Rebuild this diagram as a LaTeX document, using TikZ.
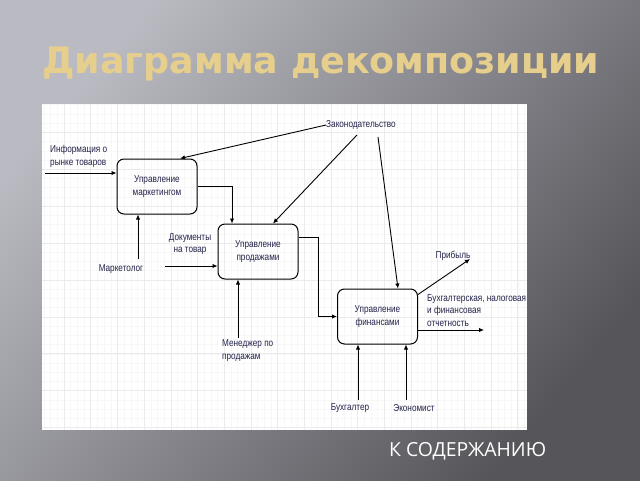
\documentclass[tikz,border=0pt]{standalone}
\usepackage{fontspec}
\setmainfont{Liberation Sans}
\newfontfamily\dfont[FakeStretch=0.82]{Liberation Sans}
\newfontfamily\tfont{DejaVu Sans}
\newfontfamily\cfont{Open Sans}
\usetikzlibrary{arrows.meta}
\definecolor{titlec}{HTML}{E6CF8C}
\definecolor{txt}{HTML}{23234A}
\definecolor{bglight}{HTML}{BABAC2}
\definecolor{bgmid}{HTML}{6E6D73}
\definecolor{bgdark}{HTML}{56555A}
\begin{document}
\begin{tikzpicture}[x=1pt,y=-1pt,
  proc/.style={draw, line width=1pt, rounded corners=7pt, minimum width=80pt, minimum height=55pt,
    align=center, font=\dfont\fontsize{10}{13}\selectfont, text=txt, inner sep=2pt},
  lbl/.style={font=\dfont\fontsize{10}{12.5}\selectfont, text=txt, inner sep=0pt},
  arr/.style={-{Latex[length=5pt,width=4.5pt]}, line width=0.9pt},
  gmaj/.style={draw=black!8, line width=0.5pt},
  gmin/.style={draw=black!3, line width=0.4pt}]
\useasboundingbox (0,0) rectangle (640,480);
% background
\fill[bgdark] (0,0) rectangle (640,480);
\shade[top color=bglight, middle color=bgmid, bottom color=bgdark, shading angle=50] (0,0) rectangle (640,480);
% panel
\fill[white] (42,104) rectangle (527,430);
\begin{scope}
\clip (42,104) rectangle (527,430);
\foreach \i in {-3,...,69} \draw[gmin] ({64+6.6725*\i},104) -- ({64+6.6725*\i},430);
\foreach \k in {-3,...,32} \draw[gmin] (42,{132.3+9.225*\k}) -- (527,{132.3+9.225*\k});
\foreach \i in {0,...,17} \draw[gmaj] ({64+26.69*\i},104) -- ({64+26.69*\i},430);
\foreach \k in {0,...,8} \draw[gmaj] (42,{132.3+36.9*\k}) -- (527,{132.3+36.9*\k});
\end{scope}
% title and footer
\node[anchor=base west, inner sep=0pt, font=\tfont\bfseries\fontsize{36.4}{40}\selectfont, text=titlec] (title) at (42,73) {Диаграмма декомпозиции};
\node[anchor=base west, inner sep=0pt, font=\cfont\fontsize{19.4}{21}\selectfont, text=white] (toc) at (389,456.7) {К СОДЕРЖАНИЮ};
% processes
\node[proc] (m) at (157,186.5) {Управление\\маркетингом};
\node[proc] (s) at (258,251.5) {Управление\\продажами};
\node[proc] (f) at (377.5,316.5) {Управление\\финансами};
% labels
\node[lbl, align=left, anchor=west] (info) at (50,156.5) {Информация о\\рынке товаров};
\node[lbl] (law) at (361,125) {Законодательство};
\node[lbl] (mk) at (121,269) {Маркетолог};
\node[lbl, align=center] (docs) at (190,244) {Документы\\на товар};
\node[lbl, align=left, anchor=west] (mgr) at (222,350.5) {Менеджер по\\продажам};
\node[lbl] (prof) at (453,255.5) {Прибыль};
\node[lbl, align=left, anchor=west] (rep) at (427,310.5) {Бухгалтерская, налоговая\\и финансовая\\отчетность};
\node[lbl] (acc) at (350,408) {Бухгалтер};
\node[lbl] (eco) at (414,408) {Экономист};
% free ends
\coordinate (infoS) at (45,173);
\coordinate (mkup) at (138,259);
\coordinate (mkr) at (165,266);
\coordinate (mgrup) at (238,338);
\coordinate (accup) at (358,400);
\coordinate (ecoup) at (406,400);
% connectors
\draw[arr] (infoS) -- (infoS -| m.west);
\draw[arr] ([xshift=-35pt]law.center) -- ([xshift=23pt]m.north);
\draw[arr] ([xshift=-4pt,yshift=-10pt]law.center) -- ([xshift=15pt]s.north);
\draw[arr] ([xshift=17pt,yshift=-12pt]law.center) -- ([xshift=20.5pt]f.north);
\draw[arr] (m.east) -| ([xshift=-26pt]s.north);
\draw[arr] (mkup) -- (mkup |- m.south);
\draw[arr] (mkr) -- (mkr -| s.west);
\draw[arr] (mgrup) -- (mgrup |- s.south);
\draw[arr] ([yshift=14.5pt]s.east) -- ++(20,0) |- (f.west);
\draw[arr] ([yshift=-6pt]f.north east) -- ([xshift=17pt,yshift=-3.5pt]prof.center);
\draw[arr] ([yshift=-13.5pt]f.east) -- ++(66,0);
\draw[arr] (accup) -- (accup |- f.south);
\draw[arr] (ecoup) -- (ecoup |- f.south);
\end{tikzpicture}
\end{document}
